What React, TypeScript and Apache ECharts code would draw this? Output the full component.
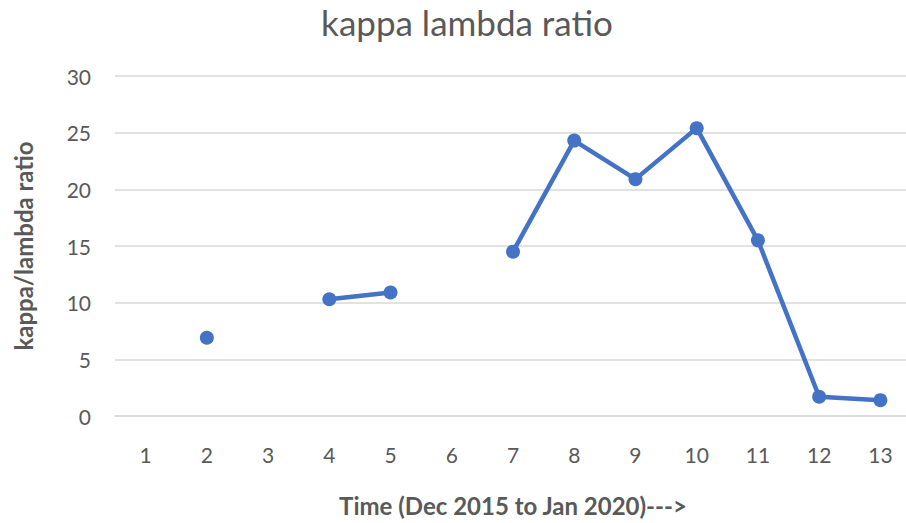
import React, { useEffect, useRef } from "react";
import * as echarts from "echarts";

const categories = ["1", "2", "3", "4", "5", "6", "7", "8", "9", "10", "11", "12", "13"];
const ratioValues: (number | null)[] = [null, 6.9, null, 10.3, 10.9, null, 14.5, 24.3, 20.9, 25.4, 15.5, 1.7, 1.4];
const yTicks = { min: 0, max: 30, interval: 5 };

const FONT = "Lato, 'Open Sans', sans-serif";
const GREY = "#595959";

export default function App() {
  const ref = useRef<HTMLDivElement>(null);
  useEffect(() => {
    if (!ref.current) return;
    const chart = echarts.init(ref.current, undefined, { renderer: "svg" });
    chart.setOption({
      animation: false,
      backgroundColor: "#ffffff",
      title: {
        text: "kappa lambda ratio",
        left: 462,
        textAlign: "center",
        top: -1,
        textStyle: { fontFamily: FONT, fontSize: 35, fontWeight: "normal", color: GREY },
      },
      grid: { left: 115, top: 76, width: 796, height: 340, containLabel: false, outerBoundsMode: "none" },
      xAxis: {
        type: "category",
        data: categories,
        boundaryGap: true,
        axisLine: { show: true, lineStyle: { color: "#d9d9d9", width: 1.5 } },
        axisTick: { show: false },
        axisLabel: { fontFamily: FONT, fontSize: 21, color: GREY, margin: 28 },
        name: "Time (Dec 2015 to Jan 2020)--->",
        nameLocation: "middle",
        nameGap: 77,
        nameTextStyle: { fontFamily: FONT, fontSize: 24, fontWeight: "bold", color: GREY },
      },
      yAxis: {
        type: "value",
        min: yTicks.min,
        max: yTicks.max,
        interval: yTicks.interval,
        axisLine: { show: false },
        axisTick: { show: false },
        splitLine: { lineStyle: { color: "#d9d9d9", width: 1.5 } },
        axisLabel: { fontFamily: FONT, fontSize: 21, color: GREY, margin: 24 },
        name: "kappa/lambda ratio",
        nameLocation: "middle",
        nameGap: 80,
        nameTextStyle: { fontFamily: FONT, fontSize: 24, fontWeight: "bold", color: GREY },
      },
      series: [
        {
          type: "line",
          data: ratioValues,
          connectNulls: false,
          symbol: "circle",
          symbolSize: 14,
          lineStyle: { color: "#4472C4", width: 4.5 },
          itemStyle: { color: "#4472C4" },
        },
      ],
    });
    return () => chart.dispose();
  }, []);
  return (
    <div
      ref={ref}
      style={{ position: "fixed", left: 0, top: 0, width: 906, height: 523, background: "#fff" }}
    />
  );
}
